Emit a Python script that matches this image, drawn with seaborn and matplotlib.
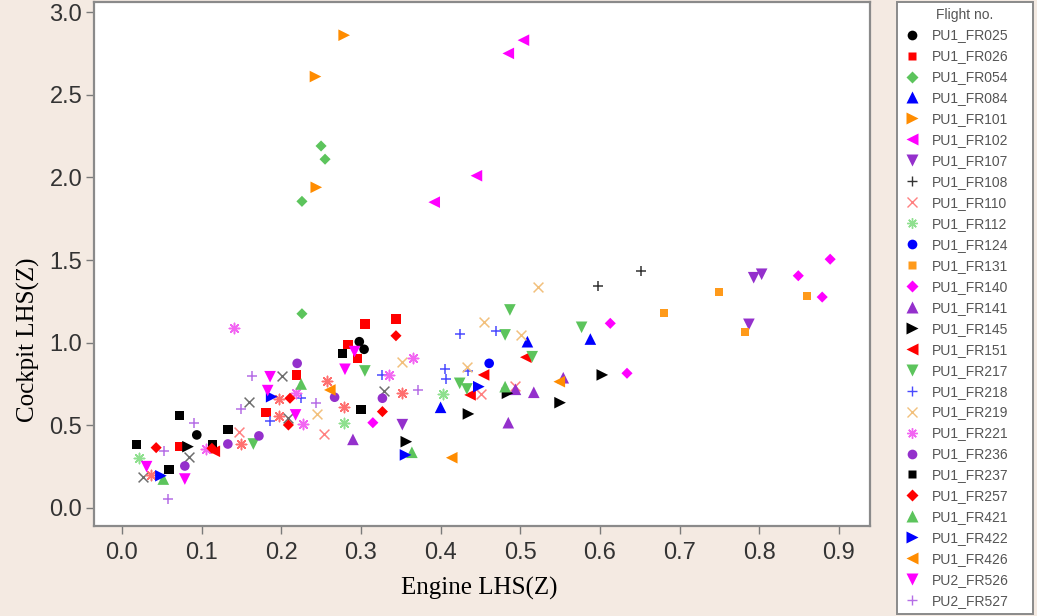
import matplotlib
matplotlib.use("Agg")
import matplotlib.pyplot as plt
from matplotlib.lines import Line2D
import seaborn as sns
import pandas as pd

# ---- data ----
FR025_X = [0.298, 0.304, 0.094]
FR025_Y = [1.006, 0.960, 0.442]
FR026_X = [0.344, 0.305, 0.284, 0.296, 0.219, 0.181, 0.073]
FR026_Y = [1.143, 1.113, 0.990, 0.906, 0.805, 0.577, 0.371]
FR054_X = [0.250, 0.255, 0.226, 0.226]
FR054_Y = [2.19, 2.11, 1.855, 1.175]
FR084_X = [0.509, 0.588, 0.400]
FR084_Y = [1.006, 1.022, 0.609]
FR101_X = [0.279, 0.243, 0.244]
FR101_Y = [2.86, 2.61, 1.94]
FR102_X = [0.504, 0.485, 0.445, 0.392]
FR102_Y = [2.83, 2.75, 2.01, 1.85]
FR107_X = [0.803, 0.793, 0.787, 0.352]
FR107_Y = [1.414, 1.393, 1.111, 0.504]
FR108_X = [0.652, 0.598]
FR108_Y = [1.434, 1.343]
FR110_X = [0.147, 0.254, 0.451, 0.494]
FR110_Y = [0.457, 0.448, 0.690, 0.740]
FR112_X = [0.279, 0.403, 0.022]
FR112_Y = [0.512, 0.690, 0.300]
FR124_X = [0.461]
FR124_Y = [0.875]
FR131_X = [0.750, 0.681, 0.860, 0.782]
FR131_Y = [1.305, 1.180, 1.285, 1.063]
FR140_X = [0.889, 0.849, 0.879, 0.613, 0.634, 0.315]
FR140_Y = [1.505, 1.405, 1.276, 1.117, 0.815, 0.516]
FR141_X = [0.517, 0.485, 0.494, 0.554, 0.290]
FR141_Y = [0.700, 0.516, 0.718, 0.788, 0.415]
FR145_X = [0.603, 0.550, 0.435, 0.484, 0.357, 0.083]
FR145_Y = [0.805, 0.637, 0.569, 0.694, 0.401, 0.371]
FR151_X = [0.454, 0.437, 0.507, 0.116]
FR151_Y = [0.805, 0.684, 0.912, 0.343]
FR217_X = [0.487, 0.481, 0.577, 0.515, 0.424, 0.433, 0.305, 0.165]
FR217_Y = [1.198, 1.047, 1.093, 0.915, 0.754, 0.720, 0.829, 0.387]
FR218_X = [0.424, 0.470, 0.405, 0.407, 0.435, 0.326, 0.225, 0.186]
FR218_Y = [1.053, 1.073, 0.841, 0.780, 0.831, 0.805, 0.664, 0.528]
FR219_X = [0.522, 0.454, 0.501, 0.433, 0.352, 0.245]
FR219_Y = [1.335, 1.123, 1.047, 0.855, 0.881, 0.567]
FR221_X = [0.366, 0.335, 0.219, 0.227, 0.141, 0.105]
FR221_Y = [0.906, 0.805, 0.694, 0.508, 1.087, 0.355]
FR236_X = [0.220, 0.267, 0.327, 0.172, 0.133, 0.079]
FR236_Y = [0.875, 0.670, 0.664, 0.436, 0.387, 0.254]
FR237_X = [0.277, 0.300, 0.018, 0.072, 0.133, 0.114, 0.059]
FR237_Y = [0.936, 0.597, 0.383, 0.558, 0.476, 0.385, 0.234]
FR257_X = [0.344, 0.327, 0.211, 0.209, 0.043, 0.113]
FR257_Y = [1.042, 0.583, 0.664, 0.502, 0.365, 0.361]
FR421_X = [0.481, 0.225, 0.364, 0.052]
FR421_Y = [0.734, 0.750, 0.337, 0.175]
FR422_X = [0.448, 0.356, 0.049, 0.188]
FR422_Y = [0.734, 0.321, 0.195, 0.673]
FR426_X = [0.549, 0.414, 0.261]
FR426_Y = [0.764, 0.304, 0.714]
FR526_X = [0.292, 0.280, 0.218, 0.186, 0.183, 0.031, 0.079]
FR526_Y = [0.946, 0.839, 0.563, 0.794, 0.710, 0.250, 0.175]
FR527_X = [0.372, 0.244, 0.163, 0.150, 0.090, 0.053, 0.058]
FR527_Y = [0.714, 0.633, 0.800, 0.599, 0.516, 0.345, 0.054]
# points drawn in the plot whose symbols do not appear in the legend
EXTRA_X_X = [0.026, 0.159, 0.201, 0.329, 0.209, 0.084]
EXTRA_X_Y = [0.186, 0.643, 0.799, 0.710, 0.543, 0.310]
EXTRA_STAR_X = [0.257, 0.279, 0.351, 0.197, 0.197, 0.149, 0.036]
EXTRA_STAR_Y = [0.768, 0.613, 0.694, 0.659, 0.557, 0.387, 0.200]

LABELS = ["PU1_FR025", "PU1_FR026", "PU1_FR054", "PU1_FR084", "PU1_FR101",
          "PU1_FR102", "PU1_FR107", "PU1_FR108", "PU1_FR110", "PU1_FR112",
          "PU1_FR124", "PU1_FR131", "PU1_FR140", "PU1_FR141", "PU1_FR145",
          "PU1_FR151", "PU1_FR217", "PU1_FR218", "PU1_FR219", "PU1_FR221",
          "PU1_FR236", "PU1_FR237", "PU1_FR257", "PU1_FR421", "PU1_FR422",
          "PU1_FR426", "PU2_FR526", "PU2_FR527"]

XS = [FR025_X, FR026_X, FR054_X, FR084_X, FR101_X, FR102_X, FR107_X, FR108_X,
      FR110_X, FR112_X, FR124_X, FR131_X, FR140_X, FR141_X, FR145_X, FR151_X,
      FR217_X, FR218_X, FR219_X, FR221_X, FR236_X, FR237_X, FR257_X, FR421_X,
      FR422_X, FR426_X, FR526_X, FR527_X]
YS = [FR025_Y, FR026_Y, FR054_Y, FR084_Y, FR101_Y, FR102_Y, FR107_Y, FR108_Y,
      FR110_Y, FR112_Y, FR124_Y, FR131_Y, FR140_Y, FR141_Y, FR145_Y, FR151_Y,
      FR217_Y, FR218_Y, FR219_Y, FR221_Y, FR236_Y, FR237_Y, FR257_Y, FR421_Y,
      FR422_Y, FR426_Y, FR526_Y, FR527_Y]

# ---- styles ----
BLACK, RED, GREEN, BLUE = "#000000", "#ff0000", "#5cc45c", "#0000ff"
ORANGE, MAGENTA, PURPLE = "#ff8c00", "#ff00ff", "#9430cc"
ASTER = (8, 2, 0)
STYLES = [
    ("o", BLACK, 48), ("s", RED, 45), ("D", GREEN, 32), ("^", BLUE, 70),
    (">", ORANGE, 70), ("<", MAGENTA, 70), ("v", PURPLE, 70), ("+", "#333333", 60),
    ("x", "#ff8080", 50), (ASTER, "#8fe08f", 55), ("o", BLUE, 48), ("s", "#ff9a1a", 34),
    ("D", MAGENTA, 32), ("^", PURPLE, 70), (">", BLACK, 70), ("<", RED, 70),
    ("v", GREEN, 70), ("+", "#4a4aff", 60), ("x", "#f2c07c", 50), (ASTER, "#f266f2", 55),
    ("o", PURPLE, 48), ("s", BLACK, 45), ("D", RED, 32), ("^", GREEN, 70),
    (">", BLUE, 70), ("<", ORANGE, 70), ("v", MAGENTA, 70), ("+", "#b56ee6", 60),
]
LINE_ART = {"+", "x", ASTER}

sns.set_style("white")
plt.rcParams["font.family"] = ["Liberation Sans", "DejaVu Sans"]

BG = "#f4eae2"
fig = plt.figure(figsize=(10.37, 6.16), dpi=100, facecolor=BG)
ax = fig.add_axes([94 / 1037, 1 - 526 / 616, (870 - 94) / 1037, (526 - 2) / 616])
ax.set_facecolor("white")


def draw(xs, ys, marker, color, size):
    df = pd.DataFrame({"x": xs, "y": ys})
    if marker in LINE_ART:
        sns.scatterplot(data=df, x="x", y="y", ax=ax, marker=marker, color=color,
                        s=size, linewidth=1.1, legend=False)
    else:
        sns.scatterplot(data=df, x="x", y="y", ax=ax, marker=marker, color=color,
                        s=size, linewidth=0, edgecolor="none", legend=False)


draw(EXTRA_X_X, EXTRA_X_Y, "x", "#6e6e6e", 50)
draw(EXTRA_STAR_X, EXTRA_STAR_Y, ASTER, "#ff7070", 55)
for xs, ys, (mk, col, sz) in zip(XS, YS, STYLES):
    draw(xs, ys, mk, col, sz)

ax.set_xlim(-0.035, 0.939)
ax.set_ylim(-0.109, 3.061)
ax.set_xticks([0.0, 0.1, 0.2, 0.3, 0.4, 0.5, 0.6, 0.7, 0.8, 0.9])
ax.set_yticks([0.0, 0.5, 1.0, 1.5, 2.0, 2.5, 3.0])
ax.set_xticklabels(["0.0", "0.1", "0.2", "0.3", "0.4", "0.5", "0.6", "0.7", "0.8", "0.9"])
ax.set_yticklabels(["0.0", "0.5", "1.0", "1.5", "2.0", "2.5", "3.0"])
ax.tick_params(axis="both", direction="out", length=5.5, width=1, color="#7a7a7a",
               labelsize=17, labelcolor="#333333", left=True, bottom=True)
ax.tick_params(axis="x", pad=6)
ax.tick_params(axis="y", pad=3)
for sp in ax.spines.values():
    sp.set_color("#8a8a8a")
    sp.set_linewidth(1.6)

ax.set_xlabel("Engine LHS(Z)", family="Liberation Serif", fontsize=18, color="black")
ax.set_ylabel("Cockpit LHS(Z)", family="Liberation Serif", fontsize=18, color="black")
ax.xaxis.set_label_coords(0.497, -0.098)
ax.yaxis.set_label_coords(-0.070, 0.355)

handles = []
for mk, col, sz in STYLES:
    if mk in LINE_ART:
        h = Line2D([], [], linestyle="none", marker=mk, color=col, markeredgecolor=col,
                   markersize=7.5, markeredgewidth=1.0)
    else:
        ms = {"o": 7, "s": 6.2, "D": 5.8}.get(mk, 8)
        h = Line2D([], [], linestyle="none", marker=mk, color=col, markeredgecolor="none",
                   markersize=ms)
    handles.append(h)

leg = fig.legend(handles, LABELS, title="Flight no.", loc="upper left",
                 bbox_to_anchor=(897 / 1037, 1 - 2 / 616, (1033 - 897) / 1037, -0.0),
                 mode="expand", fontsize=10, title_fontsize=10, frameon=True,
                 fancybox=False, edgecolor="#8a8a8a", facecolor="white", framealpha=1,
                 borderpad=0.4, labelspacing=0.5, handlelength=1.4, handletextpad=0.7,
                 borderaxespad=0)
leg.get_frame().set_linewidth(1.4)
leg.get_title().set_color("#555555")
for t in leg.get_texts():
    t.set_color("#555555")

fig.savefig("out.png", dpi=100, facecolor=BG)
